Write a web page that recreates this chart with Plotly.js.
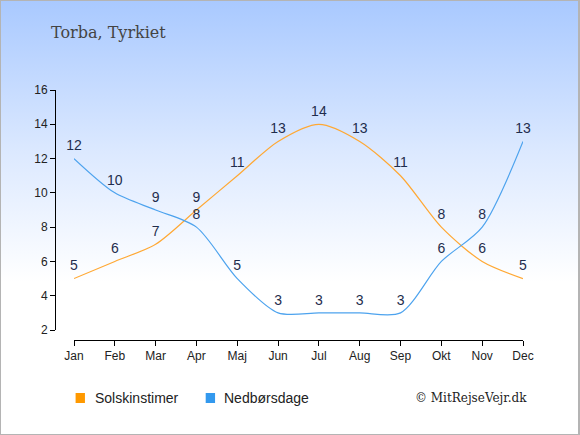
<!DOCTYPE html>
<html><head><meta charset="utf-8">
<script src="https://cdn.plot.ly/plotly-3.0.1.min.js"></script>
<style>
html,body{margin:0;padding:0;}
#wrap{position:relative;width:580px;height:435px;box-sizing:border-box;border:1px solid #b4b4b4;border-right:2px solid #b4b4b4;
background:linear-gradient(to bottom,#a9c9ff 0%,#dce9ff 35%,#ffffff 65%,#ffffff 100%);overflow:hidden;}
#chart{position:absolute;left:-1px;top:-1px;width:580px;height:435px;}
</style></head>
<body><div id="wrap"><div id="chart"></div></div>
<script>
const months = ["Jan","Feb","Mar","Apr","Maj","Jun","Jul","Aug","Sep","Okt","Nov","Dec"];
const solskinstimer = [5,6,7,9,11,13,14,13,11,8,6,5];
const nedboersdage = [12,10,9,8,5,3,3,3,3,6,8,13];
const yTicks = [2,4,6,8,10,12,14,16];

const labelFont = {family:"Liberation Sans, Arial, sans-serif", size:14, color:"#1f2d4d"};
const traces = [
  {x:months, y:solskinstimer, name:"Solskinstimer", type:"scatter", mode:"lines+markers+text",
   line:{color:"#ffa833", width:1.2, shape:"spline", smoothing:0.8},
   marker:{size:6, color:"rgba(0,0,0,0)"},
   text:solskinstimer.map(String), textposition:"top center", textfont:labelFont, cliponaxis:false, showlegend:false},
  {x:months, y:nedboersdage, name:"Nedbørsdage", type:"scatter", mode:"lines+markers+text",
   line:{color:"#4da3ee", width:1.2, shape:"spline", smoothing:0.8},
   marker:{size:6, color:"rgba(0,0,0,0)"},
   text:nedboersdage.map(String), textposition:"top center", textfont:labelFont, cliponaxis:false, showlegend:false}
];

const layout = {
  width:580, height:435,
  paper_bgcolor:"rgba(0,0,0,0)", plot_bgcolor:"rgba(0,0,0,0)",
  margin:{l:55, r:57, t:90, b:95},
  showlegend:false,
  font:{family:"Liberation Sans, Arial, sans-serif", size:12, color:"#222"},
  xaxis:{type:"category", domain:[0.0406,1], range:[0,11], anchor:"free", position:0,
    showline:true, linecolor:"#000", linewidth:1, ticks:"outside", ticklen:5, tickcolor:"#000",
    showgrid:false, zeroline:false, tickfont:{size:12,color:"#222"}, fixedrange:true},
  yaxis:{domain:[0.04,1], range:[2,16], anchor:"free", position:0, tickvals:yTicks,
    showline:true, linecolor:"#000", linewidth:1, ticks:"outside", ticklen:5, tickcolor:"#000",
    showgrid:false, zeroline:false, tickfont:{size:12,color:"#222"}, fixedrange:true},
  annotations:[
    {text:"Torba, Tyrkiet", xref:"paper", yref:"paper", x:-0.013, y:1.232, xanchor:"left", yanchor:"middle",
     showarrow:false, font:{family:"DejaVu Serif, serif", size:16, color:"#444"}},
    {text:"Solskinstimer", xref:"paper", yref:"paper", x:0.081, y:-0.232, xanchor:"left", yanchor:"middle",
     showarrow:false, font:{family:"Liberation Sans, Arial, sans-serif", size:14, color:"#222"}},
    {text:"Nedbørsdage", xref:"paper", yref:"paper", x:0.357, y:-0.232, xanchor:"left", yanchor:"middle",
     showarrow:false, font:{family:"Liberation Sans, Arial, sans-serif", size:14, color:"#222"}},
    {text:"© MitRejseVejr.dk", xref:"paper", yref:"paper", x:1.012, y:-0.23, xanchor:"right", yanchor:"middle",
     showarrow:false, font:{family:"DejaVu Serif, serif", size:12, color:"#222"}}
  ],
  shapes:[
    {type:"rect", xref:"paper", yref:"paper", x0:0.044, x1:0.064, y0:-0.252, y1:-0.212, fillcolor:"#ff9900", line:{width:0}},
    {type:"rect", xref:"paper", yref:"paper", x0:0.322, x1:0.342, y0:-0.252, y1:-0.212, fillcolor:"#3399ee", line:{width:0}}
  ]
};
Plotly.newPlot("chart", traces, layout, {displayModeBar:false, staticPlot:true});
</script></body></html>
